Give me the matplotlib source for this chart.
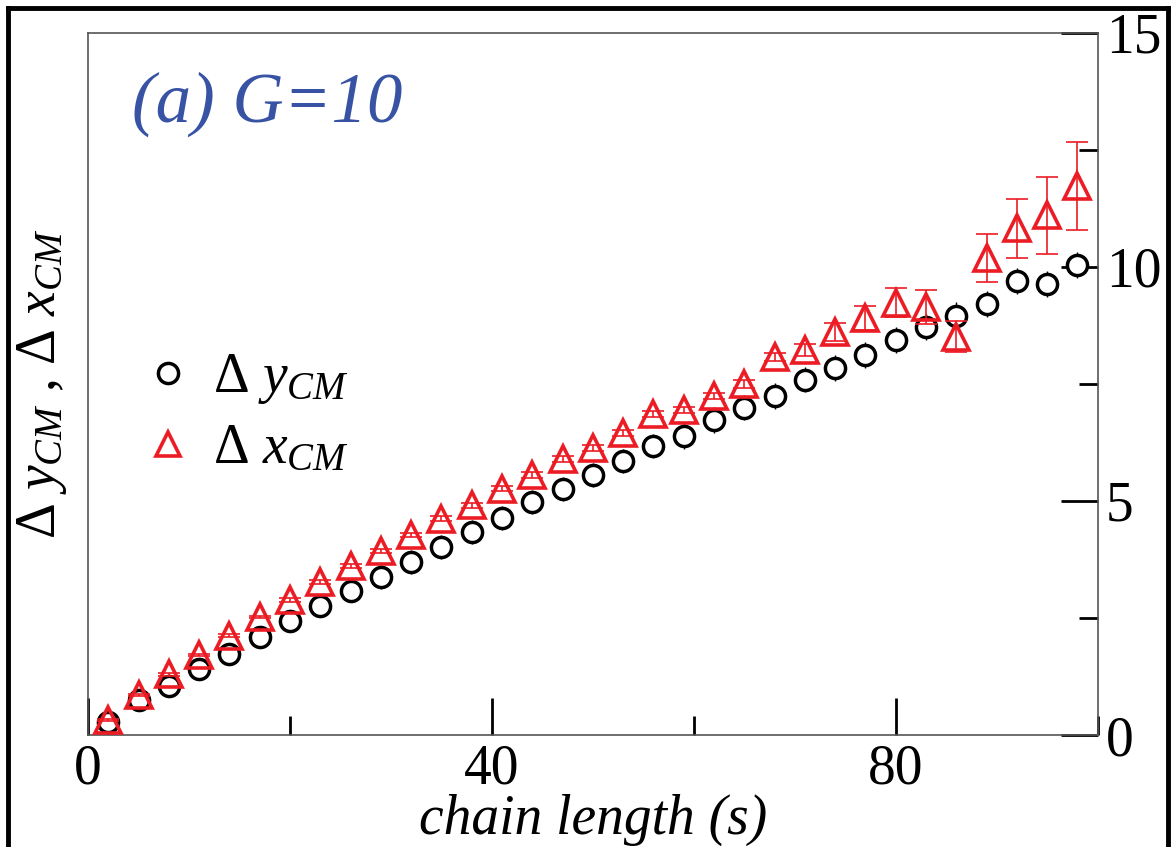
import matplotlib
matplotlib.use("Agg")
import matplotlib.pyplot as plt
from matplotlib.lines import Line2D
from matplotlib.ticker import MultipleLocator

plt.rcParams['font.family'] = ['Liberation Serif', 'DejaVu Serif']
plt.rcParams['mathtext.fontset'] = 'custom'
plt.rcParams['mathtext.rm'] = 'Liberation Serif'
plt.rcParams['mathtext.it'] = 'Liberation Serif:italic'

# chain length positions
s = [2, 5, 8, 11, 14, 17, 20, 23, 26, 29, 32, 35, 38, 41, 44, 47, 50,
     53, 56, 59, 62, 65, 68, 71, 74, 77, 80, 83, 86, 89, 92, 95, 98]

# delta y_CM (circles) and its error
dy_cm = [0.28, 0.75, 1.05, 1.41, 1.73, 2.09, 2.44, 2.76, 3.08, 3.38, 3.70,
         4.02, 4.34, 4.64, 4.98, 5.26, 5.56, 5.85, 6.18, 6.39, 6.73, 6.99,
         7.24, 7.59, 7.84, 8.12, 8.44, 8.72, 8.96, 9.21, 9.70, 9.64, 10.04]
dy_err = [0.22, 0.22, 0.23, 0.23, 0.23, 0.24, 0.24, 0.24, 0.24, 0.25, 0.25,
          0.25, 0.25, 0.25, 0.26, 0.26, 0.26, 0.26, 0.26, 0.27, 0.27, 0.27,
          0.27, 0.27, 0.27, 0.28, 0.28, 0.28, 0.28, 0.28, 0.28, 0.28, 0.28]

# delta x_CM (triangles) and its error
dx_cm = [0.32, 0.85, 1.30, 1.71, 2.12, 2.52, 2.88, 3.27, 3.61, 3.93, 4.27,
         4.62, 4.91, 5.26, 5.56, 5.90, 6.13, 6.45, 6.86, 6.94, 7.24, 7.50,
         8.08, 8.23, 8.61, 8.91, 9.23, 9.15, 8.51, 10.19, 10.83, 11.10, 11.72]
dx_err = [0.02, 0.02, 0.03, 0.03, 0.03, 0.03, 0.04, 0.04, 0.04, 0.04, 0.05,
          0.05, 0.05, 0.05, 0.06, 0.06, 0.06, 0.06, 0.07, 0.07, 0.07, 0.08,
          0.08, 0.13, 0.20, 0.26, 0.31, 0.36, 0.33, 0.52, 0.63, 0.82, 0.94]

red = '#ec1c24'
blue = '#3953a4'

fig = plt.figure(figsize=(11.74, 8.47), dpi=100)
ax = fig.add_axes([0.075, 0.1322, 0.86, 0.829])

# error bars first, markers on top
ax.errorbar(s, dy_cm, yerr=dy_err, fmt='none', ecolor='black',
            elinewidth=1.0, capsize=0, zorder=2)
ax.plot(s, dy_cm, 'o', ms=14.5, mfc='white', mec='black', mew=2.5,
        label=r'$\Delta\ y_{CM}$', zorder=3)

ax.errorbar(s, dx_cm, yerr=dx_err, fmt='none', ecolor=red,
            elinewidth=1.2, capsize=8, capthick=1.2, zorder=4)
ax.plot(s, dx_cm, '^', ms=19, mfc='none', mec=red, mew=2.6,
        label=r'$\Delta\ x_{CM}$', zorder=5)

ax.set_xlim(0, 100)
ax.set_ylim(0, 15)

ax.xaxis.set_major_locator(MultipleLocator(40))
ax.xaxis.set_minor_locator(MultipleLocator(20))
ax.yaxis.set_major_locator(MultipleLocator(5))
ax.yaxis.set_minor_locator(MultipleLocator(2.5))
ax.yaxis.tick_right()

ax.tick_params(axis='both', which='major', direction='in', length=27,
               width=2, labelsize=40, pad=6)
ax.tick_params(axis='both', which='minor', direction='in', length=13.5,
               width=2)
ax.tick_params(axis='y', which='both', left=False, right=True)
ax.tick_params(axis='x', which='both', top=False, bottom=True)

for sp in ax.spines.values():
    sp.set_color('#555555')
    sp.set_linewidth(1.2)

ax.set_xlabel('chain length (s)', fontsize=40, fontstyle='italic', labelpad=-1)
ax.set_ylabel(r'$\Delta\ y_{CM}$ , $\Delta\ x_{CM}$', fontsize=40, labelpad=14)

ax.text(0.044, 0.873, '(a) G=10', transform=ax.transAxes, fontsize=51,
        fontstyle='italic', color=blue, va='baseline', ha='left')

leg = ax.legend(loc='upper left', bbox_to_anchor=(0.052, 0.545), fontsize=40,
                frameon=False, numpoints=1, handlelength=1.0,
                handletextpad=0.3, borderpad=0, borderaxespad=0,
                labelspacing=0.3)
leg.legend_handles[0].set_markersize(14.5)
leg.legend_handles[1].set_markersize(17)

# outer frame around the panel
fig.add_artist(Line2D([8 / 1174, 8 / 1174], [0, 1 - 8 / 847], color='black', lw=3.5))
fig.add_artist(Line2D([8 / 1174, 1168 / 1174], [1 - 8 / 847, 1 - 8 / 847], color='black', lw=3.5))
fig.add_artist(Line2D([1168 / 1174, 1168 / 1174], [0, 1 - 8 / 847], color='black', lw=3.5))

fig.savefig('out.png', dpi=100)
